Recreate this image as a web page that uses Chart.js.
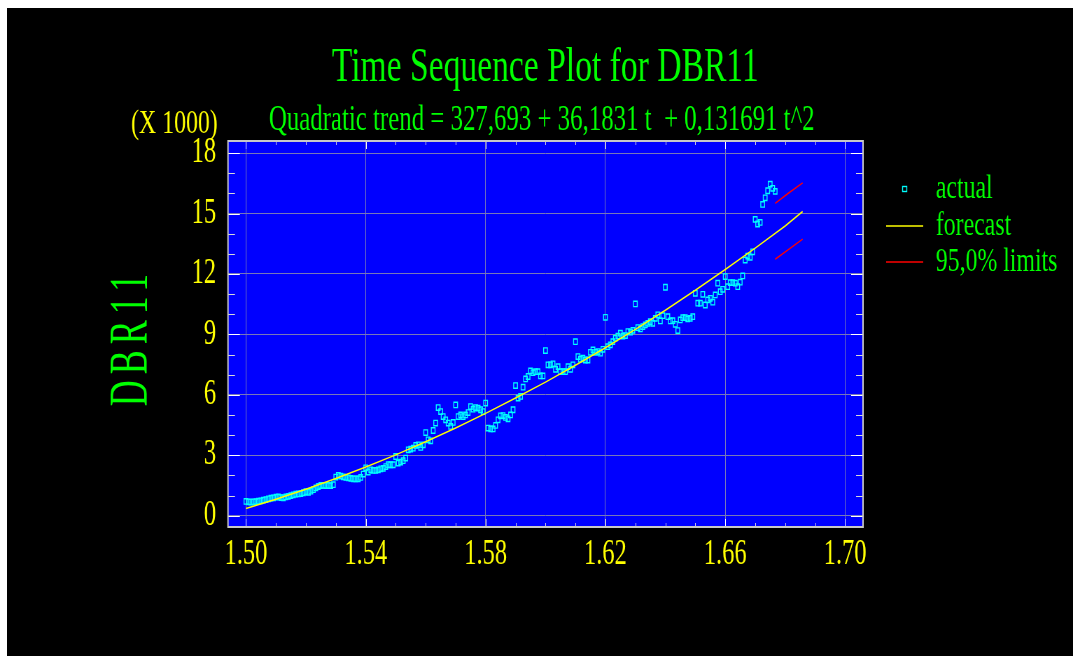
<!DOCTYPE html>
<html>
<head>
<meta charset="utf-8">
<title>Time Sequence Plot for DBR11</title>
<script src="https://cdn.jsdelivr.net/npm/chart.js@4.4.1/dist/chart.umd.min.js"></script>
<style>
  html, body { margin: 0; padding: 0; background: #fff; overflow: hidden; }
  #wrap { position: absolute; left: 7px; top: 8px; width: 1066px; height: 648px; background: #000; }
  #chart { display: block; }
</style>
</head>
<body>
<!-- the original plot uses a narrow serif, so the canvas is drawn wide and squeezed -->
<div id="wrap"><canvas id="chart" width="1523" height="648" style="width:1066px;height:648px"></canvas></div>
<script>
// monthly periods, period 1 sits at 1.50 on the time axis
const firstX = 1.50;
const stepX = 1 / 1200;

// DBR11, thousands, periods 1..213
const actual = [
  0.71, 0.69, 0.68, 0.69, 0.70, 0.72, 0.74, 0.77, 0.80, 0.84,
  0.87, 0.89, 0.92, 0.93, 0.90, 0.89, 0.93, 0.96, 1.00, 1.04,
  1.07, 1.08, 1.10, 1.14, 1.19, 1.16, 1.22, 1.29, 1.38, 1.45,
  1.50, 1.51, 1.50, 1.50, 1.49, 1.54, 1.92, 2.00, 1.97, 1.93,
  1.90, 1.88, 1.85, 1.83, 1.83, 1.83, 1.90, 2.07, 2.38, 2.17,
  2.28, 2.25, 2.25, 2.28, 2.33, 2.35, 2.44, 2.53, 2.53, 2.53,
  2.94, 2.61, 2.66, 2.73, 2.86, 3.27, 3.31, 3.35, 3.49, 3.52,
  3.39, 3.52, 4.13, 3.77, 3.72, 4.23, 4.60, 5.37, 5.17, 4.92,
  4.76, 4.60, 4.43, 4.63, 5.50, 4.92, 5.00, 4.92, 5.00, 5.12,
  5.42, 5.29, 5.37, 5.34, 5.26, 5.17, 5.59, 4.35, 4.31, 4.31,
  4.48, 4.76, 4.96, 4.97, 4.88, 4.81, 5.00, 5.26, 6.46, 5.84,
  5.92, 6.38, 6.79, 6.91, 7.19, 7.10, 7.15, 7.15, 6.94, 6.94,
  8.20, 7.49, 7.49, 7.54, 7.27, 7.40, 7.15, 7.15, 7.15, 7.40,
  7.27, 7.49, 8.64, 7.90, 7.77, 7.82, 7.73, 7.73, 8.11, 8.23,
  8.11, 8.15, 8.07, 8.26, 9.85, 8.39, 8.48, 8.64, 8.81, 8.92,
  9.06, 8.92, 8.94, 9.14, 9.11, 9.20, 10.51, 9.34, 9.27, 9.39,
  9.47, 9.55, 9.63, 9.55, 9.80, 9.97, 9.67, 9.93, 11.34, 9.88,
  9.67, 9.68, 9.50, 9.19, 9.72, 9.83, 9.83, 9.77, 9.80, 9.88,
  11.04, 10.55, 10.55, 10.99, 10.46, 10.71, 10.79, 10.60, 10.96, 11.54,
  11.12, 11.24, 11.87, 11.37, 11.57, 11.57, 11.54, 11.37, 11.59, 11.90,
  12.69, 12.89, 12.83, 13.10, 14.71, 14.48, 14.56, 15.45, 15.78, 16.13,
  16.46, 16.25, 16.10
];

// trend / forecast curve, read at every 12th period
const forecastPeriods = [1, 13, 25, 37, 49, 61, 73, 85, 97, 109, 121, 133, 145, 157, 169, 181, 193, 205, 217, 224];
const forecast = [0.36, 0.82, 1.31, 1.85, 2.42, 3.02, 3.67, 4.35, 5.08, 5.84, 6.63, 7.47, 8.34, 9.25, 10.20, 11.19, 12.22, 13.28, 14.38, 15.10];

// 95% limits for the 12 forecast periods
const limitPeriods = [213, 218, 224];
const upperLimit = [15.50, 15.98, 16.52];
const lowerLimit = [12.73, 13.18, 13.73];

const xTicks = [1.50, 1.54, 1.58, 1.62, 1.66, 1.70];
const yTicks = [0, 3, 6, 9, 12, 15, 18];

const titleText = 'Time Sequence Plot for DBR11';
const subtitleText = 'Quadratic trend = 327,693 + 36,1831 t  + 0,131691 t^2';
const yTitle = 'DBR11';
const yUnit = '(X 1000)';
const legendLabels = ['actual', 'forecast', '95,0% limits'];

const serif = "'Liberation Serif', 'Times New Roman', serif";
const green = '#00ff00';
const yellow = '#ffff00';

const toX = t => firstX + (t - 1) * stepX;
const points = (periods, vals) => vals.map((v, i) => ({ x: toX(periods[i]), y: v }));

// blue plot area, frame and the small inner tick marks
const plotFrame = {
  id: 'plotFrame',
  beforeDraw(chart) {
    const { ctx, chartArea: a } = chart;
    ctx.save();
    ctx.fillStyle = '#0000ff';
    ctx.fillRect(a.left, a.top, a.right - a.left, a.bottom - a.top);
    ctx.restore();
  },
  beforeDatasetsDraw(chart) {
    const { ctx, chartArea: a, scales: { x, y } } = chart;
    ctx.save();
    ctx.lineWidth = 1;
    for (let k = 150; k <= 170; k++) {
      const v = k / 100;
      const major = xTicks.some(t => Math.abs(t - v) < 1e-9);
      const px = Math.round(x.getPixelForValue(v)) + 0.5;
      const len = major ? 8 : 4;
      ctx.strokeStyle = major ? '#ffffff' : '#d8d8d8';
      ctx.beginPath();
      ctx.moveTo(px, a.bottom); ctx.lineTo(px, a.bottom - len);
      ctx.moveTo(px, a.top); ctx.lineTo(px, a.top + len);
      ctx.stroke();
    }
    for (let v = 0; v <= 18; v++) {
      const major = yTicks.includes(v);
      const py = Math.round(y.getPixelForValue(v)) + 0.5;
      const len = major ? 17 : 10;
      ctx.strokeStyle = major ? '#ffffff' : '#d8d8d8';
      ctx.beginPath();
      ctx.moveTo(a.left, py); ctx.lineTo(a.left + len, py);
      ctx.moveTo(a.right, py); ctx.lineTo(a.right - len, py);
      ctx.stroke();
    }
    ctx.strokeStyle = '#c8c8c8';
    ctx.lineWidth = 2;
    ctx.strokeRect(a.left, a.top, a.right - a.left, a.bottom - a.top);
    ctx.restore();
  }
};

// titles, axis captions and the legend on the right
const captions = {
  id: 'captions',
  afterDraw(chart) {
    const ctx = chart.ctx;
    const ds = chart.data.datasets;
    ctx.save();
    ctx.textBaseline = 'alphabetic';
    ctx.fillStyle = green;
    ctx.textAlign = 'center';
    ctx.font = '48px ' + serif;
    ctx.fillText(titleText, 769, 73);
    ctx.font = '35.5px ' + serif;
    ctx.fillText(subtitleText, 764, 122);

    ctx.fillStyle = yellow;
    ctx.textAlign = 'right';
    ctx.font = '34px ' + serif;
    ctx.fillText(yUnit, 301, 125);

    // tall, spaced-out vertical axis title
    ctx.save();
    ctx.translate(178, 332);
    ctx.rotate(-Math.PI / 2);
    ctx.scale(1, 2.2);
    ctx.fillStyle = green;
    ctx.textAlign = 'center';
    ctx.textBaseline = 'middle';
    ctx.font = '36px ' + serif;
    ctx.letterSpacing = '6px';
    ctx.fillText(yTitle, 3, 0);
    ctx.restore();

    // legend
    const lx0 = 1256, lx1 = 1309, tx = 1327;
    const rows = [181, 218, 254];
    ctx.lineWidth = 1.4;
    ctx.strokeStyle = ds[2].borderColor;
    ctx.strokeRect(1279.5, rows[0] - 2.5, 6, 5);
    ctx.lineWidth = 1.5;
    ctx.strokeStyle = ds[0].borderColor;
    ctx.beginPath(); ctx.moveTo(lx0, rows[1]); ctx.lineTo(lx1, rows[1]); ctx.stroke();
    ctx.strokeStyle = ds[1].borderColor;
    ctx.beginPath(); ctx.moveTo(lx0, rows[2]); ctx.lineTo(lx1, rows[2]); ctx.stroke();

    ctx.fillStyle = green;
    ctx.textAlign = 'left';
    ctx.font = '34px ' + serif;
    legendLabels.forEach((lbl, i) => ctx.fillText(lbl, tx, rows[i] + 9));
    ctx.restore();
  }
};

const tickFont = { family: serif, size: 35 };
const gridColor = '#7878b8';

new Chart(document.getElementById('chart'), {
  type: 'scatter',
  data: {
    datasets: [
      {
        label: legendLabels[1],
        data: points(forecastPeriods, forecast),
        showLine: true,
        borderColor: yellow,
        borderWidth: 1.5,
        pointRadius: 0,
        order: 0
      },
      {
        label: legendLabels[2],
        data: points(limitPeriods, upperLimit),
        showLine: true,
        borderColor: '#ff0000',
        borderWidth: 1.5,
        pointRadius: 0,
        order: 1
      },
      {
        label: legendLabels[0],
        data: actual.map((v, i) => ({ x: toX(i + 1), y: v })),
        pointStyle: 'rect',
        pointRadius: 3.8,
        borderColor: '#00ffff',
        backgroundColor: 'rgba(0,0,0,0)',
        borderWidth: 1.4,
        order: 2
      },
      {
        label: 'lower limit',
        data: points(limitPeriods, lowerLimit),
        showLine: true,
        borderColor: '#ff0000',
        borderWidth: 1.5,
        pointRadius: 0,
        order: 1
      }
    ]
  },
  options: {
    responsive: false,
    animation: false,
    devicePixelRatio: 1,
    layout: { padding: { left: 0, top: 133, right: 300, bottom: 0 } },
    plugins: {
      legend: { display: false },
      tooltip: { enabled: false },
      title: { display: false }
    },
    scales: {
      x: {
        type: 'linear',
        min: 1.494,
        max: 1.706,
        afterBuildTicks: s => { s.ticks = xTicks.map(v => ({ value: v })); },
        afterFit: s => { s.height = 129; },
        grid: { color: gridColor, lineWidth: 1, drawTicks: false },
        border: { display: false },
        ticks: {
          color: yellow,
          font: tickFont,
          padding: 7,
          maxRotation: 0,
          autoSkip: false,
          callback: v => v.toFixed(2)
        }
      },
      y: {
        type: 'linear',
        min: -0.56,
        max: 18.6,
        afterBuildTicks: s => { s.ticks = yTicks.map(v => ({ value: v })); },
        afterFit: s => { s.width = 315.7; },
        grid: { color: gridColor, lineWidth: 1, drawTicks: false },
        border: { display: false },
        ticks: {
          color: yellow,
          font: tickFont,
          padding: 17,
          autoSkip: false,
          callback: v => String(v)
        }
      }
    }
  },
  plugins: [plotFrame, captions]
});
</script>
</body>
</html>
